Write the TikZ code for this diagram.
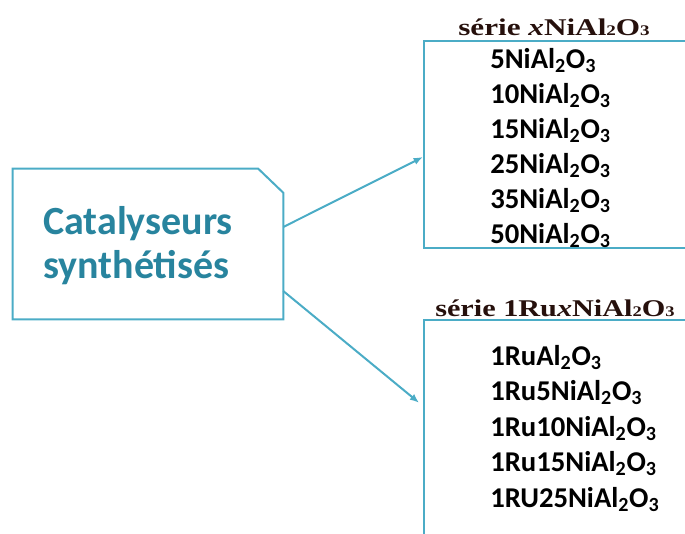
\documentclass[tikz,border=0pt]{standalone}
\usepackage{fontspec}
\setmainfont{Carlito}
\newfontfamily\serifttl{Liberation Serif}
\usetikzlibrary{arrows.meta}
\definecolor{lineteal}{RGB}{75,172,198}
\definecolor{textteal}{RGB}{40,132,158}
\definecolor{ttlcol}{RGB}{38,16,12}
\newcommand{\ttlsub}[1]{\raisebox{-0.5pt}{\fontsize{11pt}{12pt}\selectfont #1}}
\begin{document}
\begin{tikzpicture}[x=0.75pt,y=-0.75pt,
  conn/.style={draw=lineteal,line width=1.5pt,-{Latex[length=7pt,width=5.5pt]}},
  boxline/.style={draw=lineteal,line width=1.5pt,inner sep=0pt},
  item/.style={anchor=base west,inner sep=0pt,font=\fontsize{21.5pt}{24pt}\selectfont\bfseries},
  cattext/.style={anchor=base west,inner sep=0pt,text=textteal,font=\fontsize{30pt}{36pt}\selectfont\bfseries},
  ttl/.style={anchor=base west,inner sep=0pt,text=ttlcol,font=\fontsize{18pt}{20pt}\serifttl\bfseries}]
\useasboundingbox (0,0) rectangle (685,533);
\clip (0,0) rectangle (685,533);

% left box (one chamfered corner)
\node[inner sep=0pt, minimum width=202.5pt, minimum height=112.5pt] (cat) at (148,244) {};
\draw[boxline, line join=miter] (cat.north west) -- ([xshift=-18.75pt]cat.north east)
  -- ([yshift=-18pt]cat.north east) -- (cat.south east) -- (cat.south west) -- cycle;
\node[cattext] (catA) at (43,234) {Catalyseurs};
\node[cattext] (catB) at (43,278) {synthétisés};

% right boxes
\node[boxline, anchor=north west, minimum width=225pt, minimum height=155.25pt] (top) at (423,40) {};
\node[boxline, anchor=north west, minimum width=225pt, minimum height=187.5pt] (bot) at (423,319) {};

% titles
\node[ttl] (t1) at (458,35) {\scalebox{1.3}[1]{série \textit{x}NiAl\ttlsub{2}O\ttlsub{3}}};
\node[ttl] (t2) at (435,316) {\scalebox{1.26}[1]{série 1Ru\textit{x}NiAl\ttlsub{2}O\ttlsub{3}}};

% items top
\node[item] (a1) at (490,68)  {5NiAl\textsubscript{2}O\textsubscript{3}};
\node[item] (a2) at (490,103) {10NiAl\textsubscript{2}O\textsubscript{3}};
\node[item] (a3) at (490,138) {15NiAl\textsubscript{2}O\textsubscript{3}};
\node[item] (a4) at (490,173) {25NiAl\textsubscript{2}O\textsubscript{3}};
\node[item] (a5) at (490,208) {35NiAl\textsubscript{2}O\textsubscript{3}};
\node[item] (a6) at (490,243) {50NiAl\textsubscript{2}O\textsubscript{3}};

% items bottom
\node[item] (b1) at (490,365)   {1RuAl\textsubscript{2}O\textsubscript{3}};
\node[item] (b2) at (490,400.5) {1Ru5NiAl\textsubscript{2}O\textsubscript{3}};
\node[item] (b3) at (490,436)   {1Ru10NiAl\textsubscript{2}O\textsubscript{3}};
\node[item] (b4) at (490,471.5) {1Ru15NiAl\textsubscript{2}O\textsubscript{3}};
\node[item] (b5) at (490,507)   {1RU25NiAl\textsubscript{2}O\textsubscript{3}};

% connectors
\draw[conn] (cat.east |- 0,227) -- (top.west |- 0,157);
\draw[conn, shorten >=3.75pt] (cat.east |- 0,291) -- (bot.west |- 0,406);
\end{tikzpicture}
\end{document}
